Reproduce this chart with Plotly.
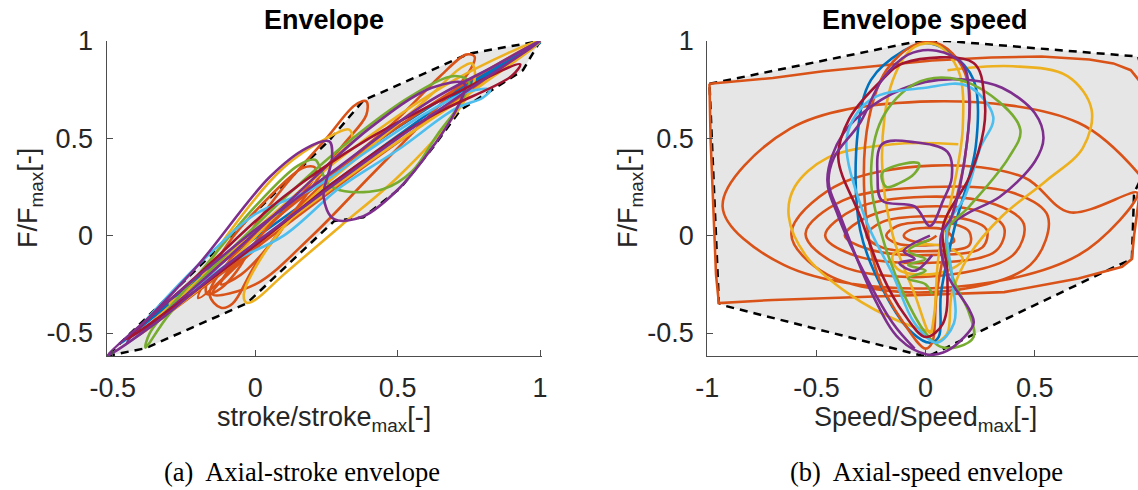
import plotly.graph_objects as go

BLUE = '#0072BD'
ORANGE = '#D95319'
YELLOW = '#EDB120'
PURPLE = '#7E2F8E'
GREEN = '#77AC30'
LBLUE = '#4DBEEE'
DRED = '#A2142F'

tick_left_x = [-0.5, 0, 0.5, 1]
tick_left_x_text = ['-0.5', '0', '0.5', '1']
tick_right_x = [-1, -0.5, 0, 0.5]
tick_right_x_text = ['-1', '-0.5', '0', '0.5']
tick_y = [-0.5, 0, 0.5, 1]
tick_y_text = ['-0.5', '0', '0.5', '1']

# ---------------- Left panel: force vs stroke ----------------
left_hull = [(-0.52, -0.618), (-0.385, -0.578), (-0.03, -0.348), (0.277, 0.075), (0.38, 0.095),
             (0.51, 0.245), (0.63, 0.465), (0.72, 0.645), (0.94, 0.85), (1.0, 1.0), (0.75, 0.935),
             (0.38, 0.695), (0.26, 0.49), (-0.52, -0.618)]

left_blue = [(-0.47, -0.55), (-0.2, -0.22), (0.2, 0.25), (0.6, 0.65), (1.0, 0.99), (0.7, 0.72),
             (0.3, 0.3), (-0.1, -0.12), (-0.47, -0.55)]
left_orange_big = [(-0.15, -0.3), (0.05, 0.0), (0.3, 0.35), (0.5, 0.6), (0.65, 0.82), (0.74, 0.93),
                   (0.77, 0.92), (0.75, 0.84), (0.6, 0.6), (0.4, 0.3), (0.2, 0.0), (0.0, -0.25), (-0.15, -0.3)]
left_orange_mid = [(-0.12, -0.37), (-0.16, -0.3), (-0.05, -0.05), (0.1, 0.25), (0.25, 0.5), (0.35, 0.67),
                   (0.39, 0.69), (0.39, 0.62), (0.3, 0.45), (0.15, 0.15), (0.0, -0.15), (-0.08, -0.35), (-0.12, -0.37)]
left_orange_small = [(-0.2, -0.32), (-0.1, -0.05), (0.05, 0.2), (0.17, 0.35), (0.21, 0.35), (0.2, 0.28),
                     (0.05, 0.05), (-0.1, -0.2), (-0.2, -0.32)]
left_orange_tiny1 = [(-0.17, -0.3), (-0.16, -0.2), (-0.08, -0.1), (-0.03, -0.08), (-0.05, -0.15),
                     (-0.12, -0.27), (-0.17, -0.3)]
left_orange_tiny2 = [(-0.12, -0.25), (-0.05, -0.1), (0.1, 0.05), (0.05, -0.05), (-0.05, -0.2), (-0.12, -0.25)]
left_orange_thin = [(-0.42, -0.52), (-0.1, -0.12), (0.3, 0.35), (0.7, 0.75), (1.0, 1.0), (0.75, 0.74),
                    (0.35, 0.32), (-0.05, -0.12), (-0.42, -0.52)]
left_yellow_big = [(-0.03, -0.345), (-0.04, -0.3), (0.05, -0.05), (0.2, 0.2), (0.4, 0.45), (0.6, 0.7),
                   (0.72, 0.86), (0.76, 0.885), (0.77, 0.8), (0.7, 0.62), (0.5, 0.3), (0.3, 0.05),
                   (0.1, -0.2), (0.0, -0.33), (-0.03, -0.345)]
left_yellow_small = [(-0.3, -0.35), (-0.24, -0.32), (-0.1, 0.0), (0.1, 0.35), (0.25, 0.5), (0.33, 0.545),
                     (0.34, 0.5), (0.28, 0.4), (0.1, 0.15), (-0.1, -0.15), (-0.3, -0.35)]
left_yellow_thin = [(-0.4, -0.5), (-0.1, -0.1), (0.3, 0.4), (0.7, 0.8), (1.0, 1.0), (0.8, 0.78),
                    (0.4, 0.38), (0.0, -0.05), (-0.4, -0.5)]
left_green = [(-0.385, -0.575), (-0.37, -0.5), (-0.2, -0.2), (0.0, 0.15), (0.15, 0.36), (0.21, 0.39),
              (0.23, 0.34), (0.26, 0.26), (0.315, 0.228), (0.45, 0.24), (0.55, 0.33), (0.64, 0.52),
              (0.72, 0.68), (0.75, 0.79), (0.7, 0.82), (0.55, 0.72), (0.3, 0.45), (0.0, 0.05),
              (-0.3, -0.4), (-0.385, -0.575)]
left_lblue = [(-0.45, -0.55), (-0.3, -0.3), (-0.15, -0.08), (0.0, 0.11), (0.2, 0.24), (0.4, 0.44),
              (0.6, 0.63), (0.75, 0.74), (0.825, 0.75), (0.8, 0.71), (0.7, 0.65), (0.5, 0.44),
              (0.3, 0.25), (0.1, 0.0), (-0.1, -0.15), (-0.3, -0.38), (-0.45, -0.55)]
left_purple_loop = [(-0.45, -0.55), (-0.2, -0.15), (0.05, 0.3), (0.18, 0.45), (0.26, 0.484), (0.27, 0.4),
                    (0.24, 0.2), (0.277, 0.085), (0.38, 0.1), (0.51, 0.25), (0.63, 0.47), (0.7, 0.63),
                    (0.735, 0.78), (0.62, 0.76), (0.4, 0.55), (0.1, 0.15), (-0.2, -0.25), (-0.45, -0.55)]
left_dred = [(-0.45, -0.53), (-0.2, -0.2), (0.1, 0.2), (0.4, 0.5), (0.7, 0.73), (0.93, 0.88),
             (0.9, 0.82), (0.6, 0.6), (0.3, 0.3), (0.0, -0.05), (-0.3, -0.38), (-0.45, -0.53)]
left_purple_main = [(-0.52, -0.618), (-0.3, -0.33), (0.0, 0.03), (0.3, 0.36), (0.6, 0.68), (0.85, 0.88),
                    (1.0, 1.0), (0.8, 0.8), (0.5, 0.5), (0.2, 0.18), (-0.1, -0.15), (-0.35, -0.45),
                    (-0.52, -0.618)]

# ---------------- Right panel: force vs speed ----------------
right_hull = [(-0.99, 0.78), (-0.03, 1.0), (0.1, 1.0), (0.974, 0.92), (0.99, 0.85), (0.99, 0.3),
              (0.955, 0.22), (0.95, 0.0), (0.945, -0.12), (0.81, -0.19), (0.2, -0.52), (0.02, -0.615),
              (-0.02, -0.615), (-0.92, -0.36), (-0.947, -0.346), (-0.99, 0.78)]

right_orange_outer = [(-0.99, 0.78), (-0.7, 0.81), (-0.47, 0.845), (-0.2, 0.875), (0.03, 0.9), (0.3, 0.915),
                      (0.53, 0.92), (0.75, 0.905), (0.86, 0.885), (0.94, 0.85), (0.99, 0.78), (1.01, 0.6),
                      (0.99, 0.3), (0.955, 0.0), (0.945, -0.12), (0.9, -0.16), (0.7, -0.22), (0.36, -0.29),
                      (0.0, -0.305), (-0.3, -0.315), (-0.7, -0.33), (-0.947, -0.346), (-0.96, -0.2),
                      (-0.975, 0.2), (-0.985, 0.5), (-0.99, 0.78)]
right_orange_spiral = [(0.99, 0.3), (0.70, 0.58), (0.03, 0.69), (-0.62, 0.55), (-0.93, 0.15), (-0.65, -0.15),
                       (0.03, -0.27), (0.70, -0.1), (0.97, 0.22),
                       (0.66, 0.12), (0.45, 0.3), (0.03, 0.36), (-0.42, 0.25), (-0.615, 0.01), (-0.45, -0.2),
                       (0.03, -0.29), (0.48, -0.15),
                       (0.56, 0.1), (0.4, 0.22), (0.02, 0.25), (-0.38, 0.18), (-0.55, 0.01), (-0.4, -0.15),
                       (0.02, -0.21), (0.4, -0.1),
                       (0.45, 0.06), (0.32, 0.16), (0.0, 0.2), (-0.32, 0.14), (-0.46, 0.0), (-0.33, -0.1),
                       (0.0, -0.14), (0.32, -0.08),
                       (0.36, 0.04), (0.26, 0.12), (0.0, 0.15), (-0.26, 0.1), (-0.37, 0.0), (-0.26, -0.07),
                       (0.0, -0.1), (0.26, -0.06),
                       (0.28, 0.03), (0.2, 0.08), (0.0, 0.1), (-0.2, 0.07), (-0.27, 0.0), (-0.2, -0.06),
                       (0.0, -0.08), (0.2, -0.05),
                       (0.2, 0.02), (0.13, 0.06), (0.0, 0.07), (-0.13, 0.05), (-0.18, 0.0), (-0.13, -0.04),
                       (0.0, -0.05), (0.13, -0.03),
                       (0.11, 0.01), (0.07, 0.035), (0.0, 0.04), (-0.07, 0.03), (-0.1, 0.0), (-0.07, -0.025),
                       (0.0, -0.03), (0.05, 0.0)]
right_yellow_arc_r = [(0.1, 0.85), (0.4, 0.87), (0.65, 0.82), (0.76, 0.65), (0.72, 0.45), (0.55, 0.28),
                      (0.35, 0.1), (0.2, -0.1), (0.12, -0.3), (0.1, -0.5), (0.05, -0.55)]
right_yellow_arc_l = [(0.15, 0.47), (-0.15, 0.47), (-0.45, 0.4), (-0.6, 0.25), (-0.627, 0.1), (-0.55, -0.1),
                      (-0.35, -0.3), (-0.1, -0.45), (0.05, -0.5)]
right_yellow_small = [(0.17, -0.12), (0.1, -0.06), (-0.05, -0.05), (-0.15, -0.1), (-0.13, -0.17),
                      (0.0, -0.2), (0.12, -0.17), (0.17, -0.12)]
right_yellow_tall = [(0.02, -0.5), (-0.05, -0.3), (-0.15, 0.0), (-0.2, 0.4), (-0.15, 0.8), (-0.05, 0.97),
                     (0.05, 0.98), (0.15, 0.85), (0.17, 0.55), (0.12, 0.2), (0.06, -0.1), (0.04, -0.4),
                     (0.02, -0.5)]
right_blue_tall = [(0.02, -0.55), (-0.06, -0.5), (-0.18, -0.31), (-0.3, 0.03), (-0.31, 0.54), (-0.25, 0.8),
                   (-0.1, 0.95), (0.0, 0.99), (0.1, 0.95), (0.22, 0.8), (0.23, 0.46), (0.13, 0.03),
                   (0.07, -0.3), (0.06, -0.52), (0.02, -0.55)]
right_orange_tall = [(0.0, -0.58), (-0.1, -0.45), (-0.22, -0.2), (-0.28, 0.2), (-0.26, 0.6), (-0.18, 0.85),
                     (-0.05, 0.98), (0.05, 0.99), (0.15, 0.9), (0.2, 0.75), (0.18, 0.4), (0.1, 0.0),
                     (0.05, -0.3), (0.03, -0.55), (0.0, -0.58)]
right_purple_tall = [(0.006, -0.61), (-0.12, -0.53), (-0.24, -0.31), (-0.39, 0.1), (-0.444, 0.27),
                     (-0.42, 0.4), (-0.3, 0.58), (-0.2, 0.8), (-0.08, 0.93), (0.05, 0.95), (0.17, 0.88),
                     (0.2, 0.7), (0.18, 0.4), (0.12, 0.1), (0.07, 0.0), (0.1, -0.2), (0.2, -0.38),
                     (0.22, -0.45), (0.15, -0.55), (0.08, -0.6), (0.006, -0.61)]
right_purple_wide = [(0.07, 0.03), (0.2, 0.12), (0.34, 0.2), (0.5, 0.38), (0.54, 0.5), (0.5, 0.63),
                     (0.35, 0.76), (0.2, 0.8), (0.0, 0.79), (-0.2, 0.7), (-0.38, 0.52), (-0.45, 0.29),
                     (-0.4, 0.1), (-0.3, -0.15), (-0.15, -0.45), (-0.05, -0.58)]
right_purple_hook = [(0.02, 0.05), (-0.05, 0.15), (-0.2, 0.18), (-0.22, 0.3), (-0.2, 0.47), (-0.05, 0.48),
                     (0.1, 0.43), (0.12, 0.3), (0.08, 0.18), (0.02, 0.05)]
right_purple_zig = [(0.02, 0.0), (-0.1, -0.08), (-0.05, -0.12), (-0.12, -0.14), (-0.05, -0.18), (0.03, -0.1)]
right_green_tall = [(0.067, -0.57), (0.0, -0.5), (-0.1, -0.3), (-0.2, 0.0), (-0.25, 0.3), (-0.2, 0.6),
                    (-0.05, 0.78), (0.113, 0.81), (0.3, 0.72), (0.434, 0.544), (0.38, 0.4), (0.2, 0.15),
                    (0.1, 0.03), (0.12, -0.2), (0.2, -0.4), (0.22, -0.52), (0.15, -0.57), (0.067, -0.57)]
right_green_small = [(-0.18, 0.25), (-0.2, 0.32), (-0.1, 0.37), (-0.03, 0.37), (-0.05, 0.32),
                     (-0.12, 0.27), (-0.18, 0.25)]
right_green_zig = [(0.02, -0.02), (-0.08, -0.08), (0.0, -0.12), (-0.08, -0.15), (0.0, -0.18),
                   (-0.08, -0.22), (0.0, -0.25), (0.03, -0.3)]
right_lblue_tall = [(0.05, -0.55), (-0.05, -0.45), (-0.15, -0.2), (-0.28, 0.1), (-0.36, 0.51), (-0.25, 0.7),
                    (0.0, 0.76), (0.19, 0.77), (0.31, 0.61), (0.25, 0.45), (0.18, 0.2), (0.1, 0.05),
                    (0.12, -0.2), (0.13, -0.45), (0.05, -0.55)]
right_dred_tall = [(0.0, -0.52), (-0.1, -0.4), (-0.2, -0.2), (-0.3, 0.1), (-0.4, 0.4), (-0.35, 0.6),
                   (-0.2, 0.8), (-0.1, 0.887), (0.22, 0.887), (0.27, 0.7), (0.266, 0.544), (0.2, 0.3),
                   (0.08, 0.05), (0.1, -0.2), (0.08, -0.45), (0.0, -0.52)]

fig = go.Figure()


def add_hull(pts, xa, ya):
    xs = [p[0] for p in pts]
    ys = [p[1] for p in pts]
    fig.add_trace(go.Scatter(x=xs, y=ys, mode='lines', fill='toself', fillcolor='#e6e6e6',
                             line=dict(width=0), xaxis=xa, yaxis=ya, showlegend=False, hoverinfo='skip'))
    fig.add_trace(go.Scatter(x=xs, y=ys, mode='lines',
                             line=dict(color='black', width=2.5, dash='8px,6px'),
                             xaxis=xa, yaxis=ya, showlegend=False, hoverinfo='skip'))


def add_loop(pts, color, xa, ya, shape='spline'):
    xs = [p[0] for p in pts]
    ys = [p[1] for p in pts]
    fig.add_trace(go.Scatter(x=xs, y=ys, mode='lines',
                             line=dict(color=color, width=2.6, shape=shape, smoothing=1.0),
                             xaxis=xa, yaxis=ya, showlegend=False, hoverinfo='skip'))


add_hull(left_hull, 'x', 'y')
for pts, col in [(left_blue, BLUE), (left_orange_big, ORANGE), (left_orange_mid, ORANGE),
                 (left_orange_small, ORANGE), (left_orange_tiny1, ORANGE), (left_orange_tiny2, ORANGE),
                 (left_orange_thin, ORANGE), (left_yellow_big, YELLOW), (left_yellow_small, YELLOW),
                 (left_yellow_thin, YELLOW), (left_green, GREEN), (left_lblue, LBLUE),
                 (left_purple_loop, PURPLE), (left_dred, DRED), (left_purple_main, PURPLE)]:
    add_loop(pts, col, 'x', 'y')

add_hull(right_hull, 'x2', 'y2')
add_loop(right_orange_outer, ORANGE, 'x2', 'y2', shape='linear')
add_loop(right_orange_spiral, ORANGE, 'x2', 'y2')
for pts, col in [(right_yellow_arc_r, YELLOW), (right_yellow_arc_l, YELLOW), (right_yellow_small, YELLOW),
                 (right_blue_tall, BLUE), (right_orange_tall, ORANGE), (right_yellow_tall, YELLOW),
                 (right_purple_wide, PURPLE), (right_purple_hook, PURPLE), (right_green_tall, GREEN),
                 (right_green_small, GREEN), (right_green_zig, GREEN), (right_lblue_tall, LBLUE),
                 (right_dred_tall, DRED), (right_purple_tall, PURPLE), (right_purple_zig, PURPLE)]:
    add_loop(pts, col, 'x2', 'y2')

W, H = 1138, 490
ax_common = dict(showline=True, linecolor='#4d4d4d', linewidth=1, ticks='inside', ticklen=6,
                 tickcolor='#4d4d4d', showgrid=False, zeroline=False, automargin=False,
                 tickfont=dict(family='Liberation Sans', size=27, color='#262626'))
ydom = [1 - 356 / H, 1 - 41 / H]

fig.update_layout(
    template='none',
    width=W, height=H, margin=dict(l=0, r=0, t=0, b=0, pad=0, autoexpand=False),
    paper_bgcolor='white', plot_bgcolor='white', showlegend=False,
    xaxis=dict(domain=[106.5 / W, 541.5 / W], range=[-0.522, 1.005], anchor='y',
               tickvals=tick_left_x, ticktext=tick_left_x_text, ticklabelstandoff=8, **ax_common),
    yaxis=dict(domain=ydom, range=[-0.618, 1.0], anchor='x',
               tickvals=tick_y, ticktext=tick_y_text, ticklabelstandoff=7, **ax_common),
    xaxis2=dict(domain=[707.3 / W, 1.0], range=[-1.0, 0.973], anchor='y2',
                tickvals=tick_right_x, ticktext=tick_right_x_text, ticklabelstandoff=8, **ax_common),
    yaxis2=dict(domain=ydom, range=[-0.618, 1.0], anchor='x2',
                tickvals=tick_y, ticktext=tick_y_text, ticklabelstandoff=7, **ax_common),
)

sans = 'Liberation Sans'
ann = []


def px(xp):
    return xp / W


def py(yp):
    return 1 - yp / H


ann.append(dict(x=px(324), y=py(20), text='<b>Envelope</b>', font=dict(family=sans, size=27, color='black')))
ann.append(dict(x=px(925), y=py(20), text='<b>Envelope speed</b>', font=dict(family=sans, size=27, color='black')))
ann.append(dict(x=px(324), y=py(419), text='stroke/stroke<sub>max</sub>[-]',
                font=dict(family=sans, size=27, color='#262626')))
ann.append(dict(x=px(925), y=py(419), text='Speed/Speed<sub>max</sub>[-]',
                font=dict(family=sans, size=27, color='#262626')))
ann.append(dict(x=px(30), y=py(198), text='F/F<sub>max</sub>[-]', textangle=-90,
                font=dict(family=sans, size=27, color='#262626')))
ann.append(dict(x=px(630), y=py(198), text='F/F<sub>max</sub>[-]', textangle=-90,
                font=dict(family=sans, size=27, color='#262626')))
ann.append(dict(x=px(302), y=py(472), text='(a)  Axial-stroke envelope',
                font=dict(family='Liberation Serif', size=26.5, color='black')))
ann.append(dict(x=px(926), y=py(472), text='(b)  Axial-speed envelope',
                font=dict(family='Liberation Serif', size=26.5, color='black')))
for a in ann:
    a.update(xref='paper', yref='paper', showarrow=False, xanchor='center', yanchor='middle')
fig.update_layout(annotations=ann)

fig.write_html('out.html')
